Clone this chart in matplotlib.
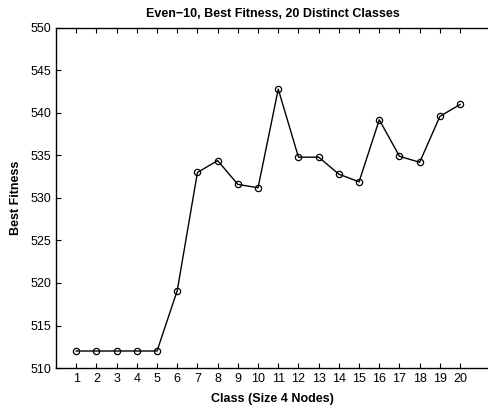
import matplotlib
matplotlib.use("Agg")
import matplotlib.pyplot as plt

plt.rcParams['font.family'] = ['Liberation Sans', 'DejaVu Sans']

classes = list(range(1, 21))
fitness = [512, 512, 512, 512, 512, 519.1, 533.0, 534.4, 531.6, 531.2,
           542.8, 534.8, 534.8, 532.8, 531.9, 539.2, 534.9, 534.2, 539.6, 541.0]

fig = plt.figure(figsize=(4.89, 4.11), dpi=100)
ax = fig.add_axes([0.1145, 0.1046, 0.8855, 0.8274])

ax.plot(classes, fitness, color='black', linewidth=1, marker='o',
        markersize=4.5, markerfacecolor='none', markeredgecolor='black',
        markeredgewidth=0.9)

# axes run off the right edge of the image, so no right spine is seen
ax.set_xlim(0, 21.43)
ax.set_ylim(510, 550)
ax.set_xticks(classes)
ax.set_yticks(range(510, 551, 5))
ax.tick_params(direction='in', top=True, right=False, labelsize=9, length=3.5, width=0.8)
ax.spines['right'].set_visible(False)
for s in ax.spines.values():
    s.set_linewidth(1)

ax.set_title('Even\u221210, Best Fitness, 20 Distinct Classes', fontsize=9, fontweight='bold', pad=8)
ax.set_xlabel('Class (Size 4 Nodes)', fontsize=9, fontweight='bold', labelpad=6)
ax.set_ylabel('Best Fitness', fontsize=9, fontweight='bold', labelpad=6)

fig.savefig('out.png', dpi=100)
